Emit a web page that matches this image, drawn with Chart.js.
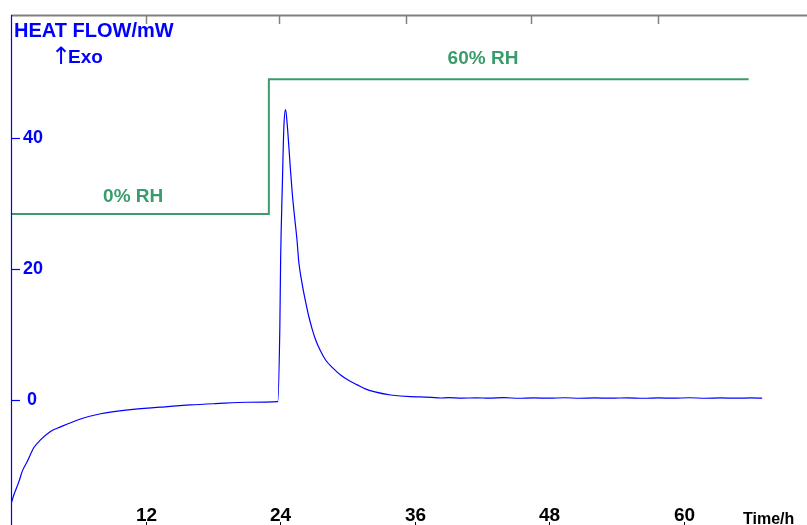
<!DOCTYPE html>
<html lang="en">
<head>
  <meta charset="UTF-8" />
  <title>Heat flow vs time</title>
  <style>
    html, body { margin: 0; padding: 0; background: #fff; }
    .wrap { width: 807px; height: 525px; }
  </style>
</head>
<body>
  <div class="wrap">
    <canvas id="dscChart" width="807" height="525"></canvas>
  </div>

  <script src="https://cdn.jsdelivr.net/npm/chart.js"></script>
  <script>
    // heat flow curve (time in h, heat flow in mW)
    const hours = [
      0.05, 0.25, 0.70, 1.00, 1.45, 2.03, 2.63, 3.52, 4.42, 6.20, 7.99, 10.48, 13.34, 16.02, 18.25, 21.10, 23.80,
      23.98, 24.05, 24.20, 24.34, 24.49, 24.64, 24.79, 24.94, 25.09, 25.29, 25.50, 25.68, 25.90, 26.12, 26.35,
      26.57, 26.85, 27.17, 27.60, 28.06, 28.70, 29.40, 30.10, 30.89, 31.60, 32.37, 33.86, 35.64,
      36.5, 37.5, 38.3, 39.0, 40.2, 41.5, 42.6, 44.0, 45.3, 46.6, 48.0, 49.4, 50.7, 52.1, 53.5, 55.0,
      56.4, 57.8, 59.1, 60.5, 61.9, 63.3, 64.7, 66.0, 67.0
    ];
    const heatFlow = [
      -15.6, -14.5, -12.5, -10.9, -9.4, -7.3, -6.1, -4.8, -4.1, -2.9, -2.1, -1.5, -1.1, -0.76, -0.56, -0.35, -0.26,
      11.2, 21.4, 32.6, 41.7, 44.3, 42.0, 38.5, 34.8, 31.5, 28.0, 24.6, 20.9, 18.4, 16.3, 14.4,
      12.7, 10.9, 9.2, 7.5, 6.1, 4.9, 3.8, 3.0, 2.3, 1.7, 1.27, 0.76, 0.50,
      0.48, 0.40, 0.30, 0.36, 0.28, 0.33, 0.27, 0.35, 0.26, 0.32, 0.27, 0.34, 0.26, 0.31, 0.27, 0.33,
      0.26, 0.32, 0.27, 0.34, 0.26, 0.31, 0.27, 0.32, 0.28
    ];

    // relative humidity programme
    const rhHours = [0, 23, 23, 65.8];
    const rhLevel = [0, 0, 60, 60];

    const xTickValues = [12, 24, 36, 48, 60];
    const topTickValues = [12, 23.9, 35.2, 46.4, 57.7];
    const yTickValues = [0, 20, 40];

    const BLUE = "#0000ff";
    const GREEN = "#3a9c6c";
    const FONT = "'Liberation Sans', Arial, sans-serif";

    const decorations = {
      id: "decorations",
      afterDraw(chart) {
        const { ctx, chartArea: area, scales } = chart;
        const x = scales.x, y = scales.y, rh = scales.yRh;
        ctx.save();

        // top frame line with its ticks
        ctx.strokeStyle = "#808080";
        ctx.lineWidth = 2;
        ctx.beginPath();
        ctx.moveTo(area.left, 15.5);
        ctx.lineTo(area.right, 15.5);
        ctx.stroke();
        ctx.lineWidth = 1.5;
        topTickValues.forEach(v => {
          const px = Math.round(x.getPixelForValue(v)) + 0.5;
          ctx.beginPath();
          ctx.moveTo(px, 16);
          ctx.lineTo(px, 24);
          ctx.stroke();
        });

        // left axis
        ctx.strokeStyle = BLUE;
        ctx.lineWidth = 1.2;
        ctx.beginPath();
        ctx.moveTo(area.left + 0.5, 15);
        ctx.lineTo(area.left + 0.5, area.bottom);
        ctx.stroke();

        ctx.fillStyle = BLUE;
        ctx.font = "bold 18px " + FONT;
        ctx.textBaseline = "middle";
        ctx.textAlign = "left";
        yTickValues.forEach(v => {
          const py = Math.round(y.getPixelForValue(v)) + 0.5;
          ctx.beginPath();
          ctx.moveTo(area.left, py);
          ctx.lineTo(area.left + 9, py);
          ctx.stroke();
          const label = String(v);
          ctx.fillText(label, label.length > 1 ? 23 : 27, py);
        });

        // axis titles
        ctx.font = "bold 20px " + FONT;
        ctx.textBaseline = "alphabetic";
        ctx.fillText("HEAT FLOW/mW", 14, 36.5);
        ctx.font = "24px 'DejaVu Sans', sans-serif";
        ctx.fillText("\u2191", 51, 64);
        ctx.font = "bold 19px " + FONT;
        ctx.fillText("Exo", 68, 63);

        // bottom axis ticks and labels
        ctx.strokeStyle = "#000";
        ctx.fillStyle = "#000";
        ctx.lineWidth = 1;
        ctx.textAlign = "center";
        ctx.font = "bold 19px " + FONT;
        xTickValues.forEach(v => {
          const px = Math.round(x.getPixelForValue(v)) + 0.5;
          ctx.beginPath();
          ctx.moveTo(px, area.bottom - 3);
          ctx.lineTo(px, area.bottom);
          ctx.stroke();
          ctx.fillText(String(v), px, 521);
        });
        ctx.textAlign = "left";
        ctx.font = "bold 16px " + FONT;
        ctx.fillText("Time/h", 743, 524);

        // humidity labels
        ctx.fillStyle = GREEN;
        ctx.textAlign = "center";
        ctx.font = "bold 19px " + FONT;
        ctx.fillText("0% RH", x.getPixelForValue(10.9), rh.getPixelForValue(0) - 12.5);
        ctx.fillText("60% RH", x.getPixelForValue(42.1), rh.getPixelForValue(60) - 15);

        ctx.restore();
      }
    };

    new Chart(document.getElementById("dscChart"), {
      type: "line",
      data: {
        datasets: [
          {
            label: "Heat flow",
            data: hours.map((t, i) => ({ x: t, y: heatFlow[i] })),
            yAxisID: "y",
            borderColor: BLUE,
            borderWidth: 1.2,
            pointRadius: 0,
            cubicInterpolationMode: "monotone",
            fill: false
          },
          {
            label: "RH",
            data: rhHours.map((t, i) => ({ x: t, y: rhLevel[i] })),
            yAxisID: "yRh",
            borderColor: GREEN,
            borderWidth: 2,
            pointRadius: 0,
            tension: 0,
            fill: false
          }
        ]
      },
      options: {
        responsive: false,
        animation: false,
        layout: { padding: { left: 11, top: 16, right: 0, bottom: 0 } },
        plugins: { legend: { display: false }, tooltip: { enabled: false } },
        scales: {
          x: { type: "linear", min: 0, max: 71, display: false },
          y: { type: "linear", min: -19.08, max: 58.6, display: false },
          yRh: { type: "linear", axis: "y", min: -138.5, max: 88.2, display: false }
        }
      },
      plugins: [decorations]
    });
  </script>
</body>
</html>
